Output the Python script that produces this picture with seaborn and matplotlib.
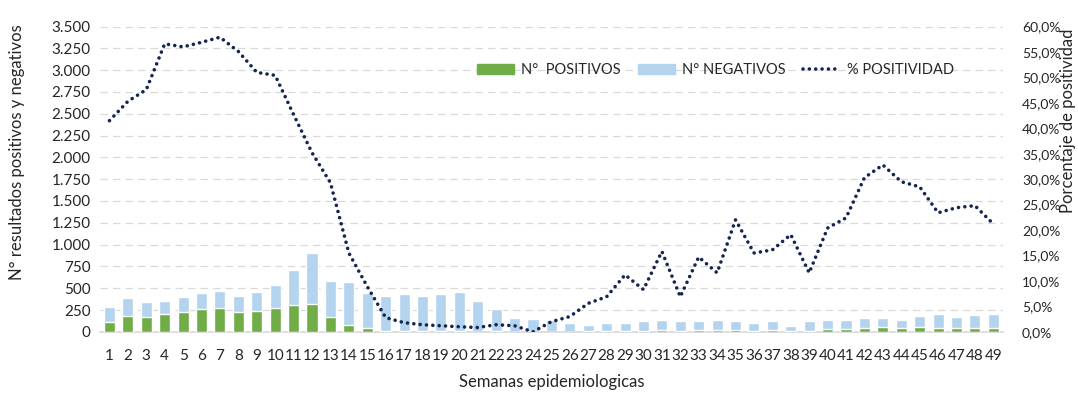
import numpy as np
import pandas as pd
import matplotlib.pyplot as plt
import matplotlib.ticker as mticker
from matplotlib.patches import Patch
from matplotlib.lines import Line2D
import seaborn as sns

# Data
semanas = list(range(1, 50))
positivos = [115, 182, 172, 205, 228, 262, 273, 228, 240, 273,
             308, 320, 172, 80, 45, 12, 8, 6, 5, 5,
             3, 4, 2, 0, 3, 3, 5, 7, 12, 11,
             22, 9, 17, 16, 26, 15, 21, 12, 15, 27,
             30, 46, 51, 39, 51, 47, 41, 47, 42]
negativos = [165, 205, 170, 148, 172, 183, 195, 182, 216, 263,
             400, 580, 408, 490, 400, 403, 427, 409, 433, 457,
             345, 262, 160, 151, 137, 103, 77, 97, 93, 117,
             118, 119, 103, 119, 94, 83, 109, 54, 115, 105,
             102, 109, 104, 93, 127, 153, 127, 141, 158]
pct_positividad = [41.5, 45.3, 47.6, 56.6, 56.0, 56.9, 57.9, 55.1, 51.0, 50.4,
                   42.7, 35.2, 29.3, 15.5, 8.9, 2.8, 1.8, 1.4, 1.2, 1.0,
                   0.85, 1.4, 1.2, 0.0, 2.0, 3.0, 5.6, 6.9, 11.2, 8.3,
                   15.8, 6.9, 14.7, 11.6, 22.0, 15.5, 16.1, 19.1, 11.6, 20.4,
                   22.4, 30.3, 32.8, 29.5, 28.5, 23.4, 24.4, 24.8, 21.2]

df = pd.DataFrame({"semana": semanas, "pos": positivos, "neg": negativos,
                   "pct": np.array(pct_positividad) / 100})
df["total"] = df["pos"] + df["neg"]
df["idx"] = np.arange(len(df))

sns.set_theme(style="white")
plt.rcParams["font.family"] = ["Lato", "DejaVu Sans"]

GREEN = "#70AD47"
BLUE = "#B4D3EE"
NAVY = "#14254F"
TXT = "#262626"

fig = plt.figure(figsize=(10.78, 3.96), dpi=100)
ax = fig.add_axes([0.093, 0.162, 0.837, 0.771])

# stacked bars: total (blue) behind positives (green)
sns.barplot(data=df, x="semana", y="total", color=BLUE, width=0.6,
            saturation=1, ax=ax, zorder=2)
sns.barplot(data=df, x="semana", y="pos", color=GREEN, width=0.6,
            saturation=1, ax=ax, zorder=3)

ax.set_ylim(0, 3500)
ax.set_xlim(-0.5, len(df) - 0.5)
ax.yaxis.set_major_locator(mticker.MultipleLocator(250))
ax.yaxis.set_major_formatter(mticker.FuncFormatter(lambda v, p: f"{int(v):,}".replace(",", ".")))
ax.grid(axis="y", color="#D9D9D9", linestyle=(0, (6, 4)), linewidth=0.9, zorder=0)
ax.set_axisbelow(True)
for s in ["top", "right", "left"]:
    ax.spines[s].set_visible(False)
ax.spines["bottom"].set_color("#D9D9D9")
ax.tick_params(axis="y", length=0, labelsize=11, colors=TXT, pad=7)
ax.tick_params(axis="x", length=0, labelsize=11, colors=TXT, pad=12)
ax.set_xlabel("Semanas epidemiologicas", fontsize=12, color=TXT, labelpad=8)
ax.set_ylabel("")

# positivity line on secondary axis
ax2 = ax.twinx()
sns.lineplot(data=df, x="idx", y="pct", ax=ax2, color=NAVY, linewidth=2.6,
             linestyle=(0, (0.01, 1.75)), dash_capstyle="round", zorder=4)
ax2.set_ylim(0, 0.6)
ax2.set_xlim(-0.5, len(df) - 0.5)
ax2.yaxis.set_major_locator(mticker.MultipleLocator(0.05))
ax2.yaxis.set_major_formatter(mticker.FuncFormatter(lambda v, p: f"{v*100:.1f}%".replace(".", ",")))
for s in ax2.spines.values():
    s.set_visible(False)
ax2.tick_params(axis="y", length=0, labelsize=10, colors=TXT, pad=14)
ax2.set_xlabel("")
ax2.set_ylabel("")

# axis titles placed like the original
fig.text(17 / 1078, 1 - 152 / 396, "N° resultados positivos y negativos",
         rotation=90, ha="center", va="center", fontsize=12, color=TXT)
fig.text(1068 / 1078, 1 - 121 / 396, "Porcentaje de positividad",
         rotation=90, ha="center", va="center", fontsize=12, color=TXT)

handles = [Patch(color=GREEN), Patch(color=BLUE),
           Line2D([0], [0], color=NAVY, linewidth=2.6, linestyle=(0, (0.01, 1.75)),
                  dash_capstyle="round")]
fig.legend(handles, ["N°  POSITIVOS", "N° NEGATIVOS", "% POSITIVIDAD"],
           loc="center", bbox_to_anchor=(0.664, 0.823), ncol=3, frameon=False,
           fontsize=10.5, handlelength=2.5, columnspacing=1.2, handletextpad=0.5,
           labelcolor=TXT)

fig.savefig("out.png", dpi=100)
